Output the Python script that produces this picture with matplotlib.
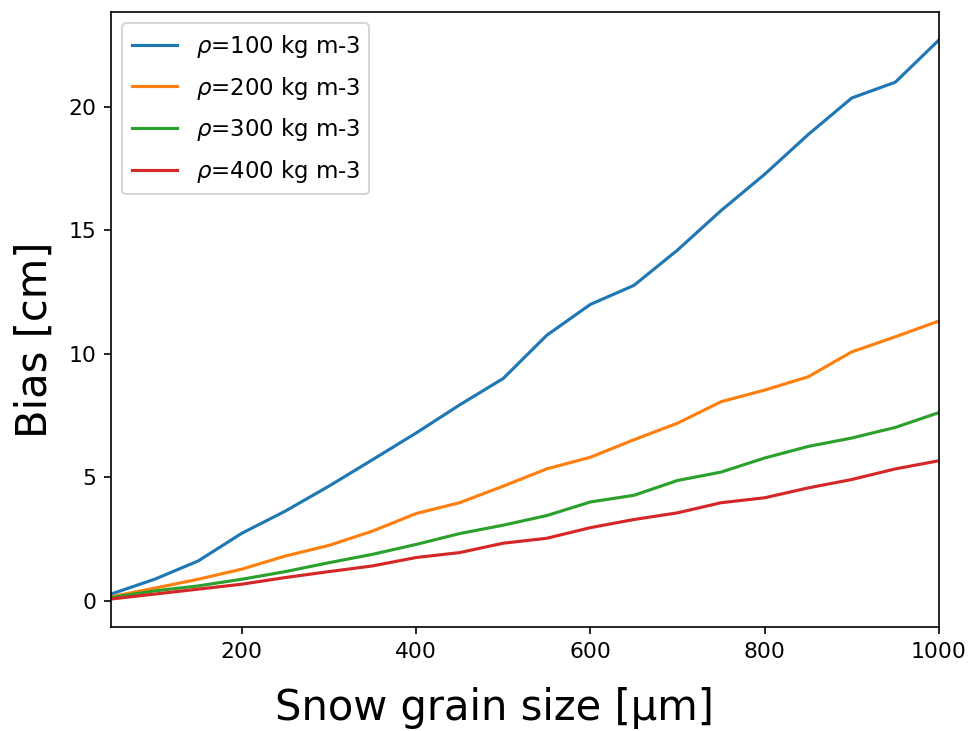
import matplotlib
matplotlib.use("Agg")
import matplotlib.pyplot as plt
import numpy as np

# grain sizes [µm]
grain_size = np.arange(50, 1001, 50)

# bias [cm] for each snow density
bias_100 = [0.27, 0.87, 1.61, 2.73, 3.63, 4.64, 5.71, 6.79, 7.93, 9.0,
            10.75, 12.0, 12.77, 14.2, 15.8, 17.27, 18.88, 20.36, 21.0, 22.71]
bias_200 = [0.16, 0.51, 0.87, 1.28, 1.81, 2.24, 2.82, 3.53, 3.97, 4.64,
            5.34, 5.81, 6.52, 7.19, 8.06, 8.53, 9.07, 10.08, 10.69, 11.33]
bias_300 = [0.13, 0.40, 0.60, 0.87, 1.18, 1.54, 1.88, 2.28, 2.72, 3.06,
            3.45, 4.0, 4.27, 4.87, 5.21, 5.78, 6.25, 6.59, 7.02, 7.62]
bias_400 = [0.07, 0.27, 0.47, 0.67, 0.94, 1.18, 1.41, 1.75, 1.95, 2.33,
            2.53, 2.96, 3.29, 3.56, 3.97, 4.17, 4.57, 4.91, 5.34, 5.67]

densities = [100, 200, 300, 400]
biases = [bias_100, bias_200, bias_300, bias_400]

fig = plt.figure(figsize=(971 / 150, 731 / 150), dpi=150)
ax = fig.add_axes([0.1143, 0.1423, 0.8527, 0.8413])

for rho, b in zip(densities, biases):
    ax.plot(grain_size, b, label=r'$\rho$=%d kg m-3' % rho)

ax.set_xlim(50, 1000)
ax.set_xlabel('Snow grain size [µm]', fontsize=20, labelpad=12)
ax.set_ylabel('Bias [cm]', fontsize=20, labelpad=6)
ax.xaxis.label.set_x(0.463)
ax.yaxis.label.set_y(0.467)
ax.tick_params(labelsize=10.5)
ax.legend(loc='upper left', fontsize=11, labelspacing=0.65)

fig.savefig('out.png', dpi=150)
